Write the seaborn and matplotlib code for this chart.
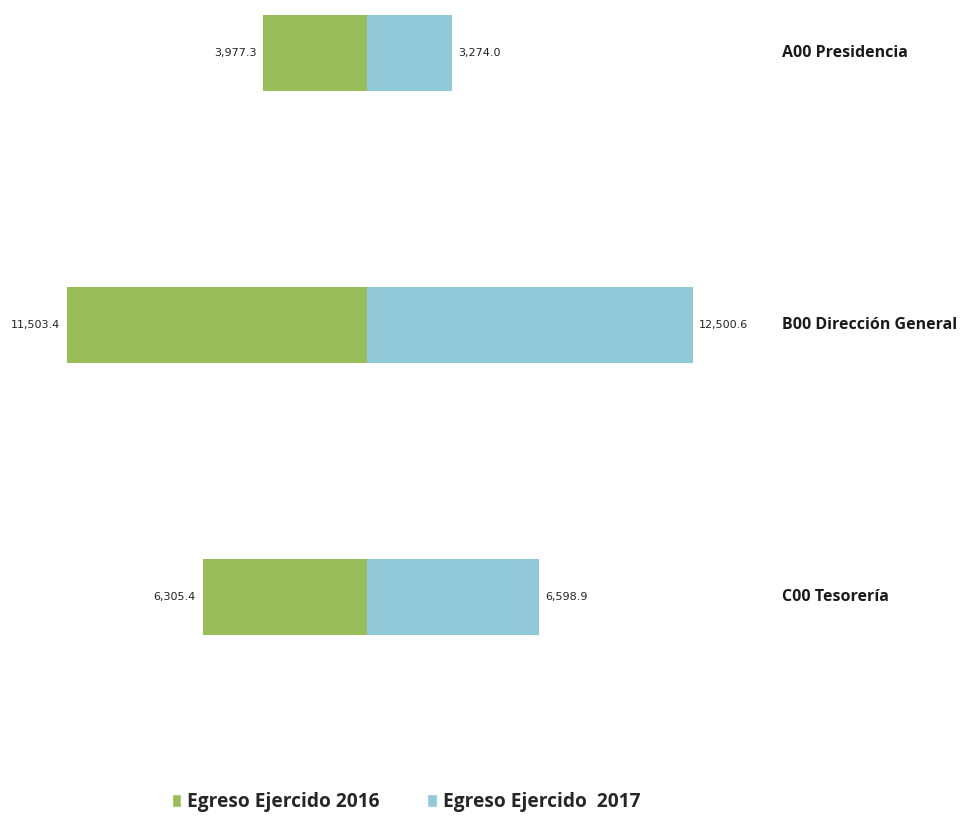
import matplotlib
matplotlib.use("Agg")
import matplotlib.pyplot as plt
import seaborn as sns
import pandas as pd
from matplotlib.patches import Patch

# -------------------- Data --------------------
categories = ["A00 Presidencia", "B00 Dirección General", "C00 Tesorería"]
egreso_2016 = [3977.3, 11503.4, 6305.4]
egreso_2017 = [3274.0, 12500.6, 6598.9]
labels_2016 = ["3,977.3", "11,503.4", "6,305.4"]
labels_2017 = ["3,274.0", "12,500.6", "6,598.9"]
series_names = ["Egreso Ejercido 2016", "Egreso Ejercido  2017"]

GREEN = "#9abd5c"
BLUE = "#92c9d9"

df = pd.DataFrame({
    "cat": categories,
    "v2016": [-v for v in egreso_2016],   # left side
    "v2017": egreso_2017,
})

sns.set_style("white")
fig = plt.figure(figsize=(9.61, 8.25), dpi=100)
ax = fig.add_axes([0, 0, 1, 1])

sns.barplot(data=df, y="cat", x="v2016", color=GREEN, width=0.28,
            saturation=1, orient="h", linewidth=0, ax=ax)
sns.barplot(data=df, y="cat", x="v2017", color=BLUE, width=0.28,
            saturation=1, orient="h", linewidth=0, ax=ax)

# scale: ~0.02605 px per unit, center at 367 px
px_per_unit = 0.02605
ax.set_xlim(-367 / px_per_unit, (961 - 367) / px_per_unit)
ax.set_ylim(2 + (825 - 597) / 272, -53 / 272)

num_font = ["Liberation Sans Narrow", "DejaVu Sans"]
for i, (v16, v17) in enumerate(zip(egreso_2016, egreso_2017)):
    ax.text(-v16 - 7 / px_per_unit, i, labels_2016[i], ha="right", va="center",
            fontsize=8, family=num_font, color="#222222")
    ax.text(v17 + 6 / px_per_unit, i, labels_2017[i], ha="left", va="center",
            fontsize=8, family=num_font, color="#222222")
    ax.text((782 - 367) / px_per_unit, i, categories[i], ha="left", va="center",
            fontsize=11.5, fontweight="bold", family=["Open Sans", "DejaVu Sans"], color="#1a1a1a")

ax.set_axis_off()

handles = [Patch(facecolor=GREEN, label=series_names[0]),
           Patch(facecolor=BLUE, label=series_names[1])]
fig.legend(handles=handles, loc="center", bbox_to_anchor=(406 / 961, 1 - 802 / 825),
           ncol=2, frameon=False, handlelength=0.5, handleheight=0.7,
           handletextpad=0.3, columnspacing=2.5,
           prop={"family": ["Open Sans", "DejaVu Sans"], "weight": "bold", "size": 13.8})

fig.savefig("out.png", dpi=100)
